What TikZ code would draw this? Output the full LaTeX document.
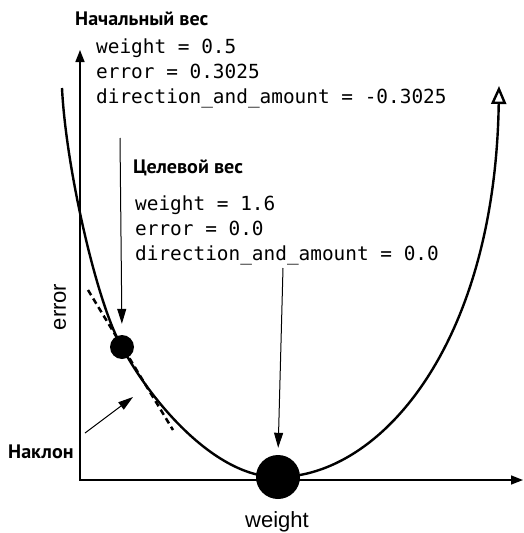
\documentclass[tikz,border=0pt]{standalone}
\usepackage{fontspec}
\setmainfont{Liberation Sans}
\newfontfamily\codefont{DejaVu Sans Mono}
\newfontfamily\headfont{PT Sans}[FakeStretch=1.03]
\usetikzlibrary{arrows.meta}
\tikzset{
  axis/.style={line width=1.5pt},
  pointer/.style={line width=1pt, -{Triangle[length=15pt,width=9pt]}},
  curveline/.style={line width=2.4pt, line join=round},
  dot/.style={circle, fill=black, inner sep=0pt},
  code/.style={font=\codefont\fontsize{19.4}{25}\selectfont, anchor=base west, inner sep=0pt},
  head/.style={font=\headfont\bfseries\fontsize{19.5}{23}\selectfont, anchor=base west, inner sep=0pt},
  axlabel/.style={font=\fontsize{22}{26}\selectfont, inner sep=0pt},
  tangent/.style={line width=2.5pt, dash pattern=on 6pt off 4pt}
}
\begin{document}
\begin{tikzpicture}[x=1pt,y=-1pt]
\useasboundingbox (0,0) rectangle (523,533);
% axes
\coordinate (ytop) at (80,50);
\coordinate (xend) at (523,480);
\draw[axis, {Triangle[length=12pt,width=9pt]}-{Triangle[length=12pt,width=9pt]}] (ytop) |- (xend);
% labels
\node[axlabel, rotate=90] (elabel) at (60,307) {error};
\node[axlabel] (wlabel) at (277,522) {weight};
% curve
\coordinate (cstart) at (62,88);
\coordinate (cdot) at (122,347);
\coordinate (cmin) at (278,477);
\coordinate (cend) at (499,86);
\draw[curveline, -{Triangle[open,length=18pt,width=15pt,line width=2.4pt]}]
  (cstart) .. controls (66,170) and (98,307) .. (cdot)
  .. controls (150,400) and (215,478) .. (cmin)
  .. controls (380,477) and (495,345) .. (cend);
% tangent
\coordinate (t1) at (88,290);
\coordinate (t2) at (173,430);
\draw[tangent] (t1) -- (t2);
% dots
\node[dot, minimum size=24pt] (small) at (cdot) {};
\node[dot, minimum size=44pt] (big) at (cmin) {};
% texts
\node[head] (h1) at (75,25) {Начальный вес};
\node[code] (c1a) at (96,53) {weight = 0.5};
\node[code] (c1b) at (96,78) {error = 0.3025};
\node[code] (c1c) at (96,103) {direction\_and\_amount = -0.3025};
\node[head] (h2) at (133,173) {Целевой вес};
\node[code] (c2a) at (135,210) {weight = 1.6};
\node[code] (c2b) at (135,235) {error = 0.0};
\node[code] (c2c) at (135,260) {direction\_and\_amount = 0.0};
\node[head] (slope) at (8,458) {Наклон};
% pointers
\coordinate (p1) at (120,138);
\draw[pointer, shorten >=11pt] (p1) -- (small.north);
\coordinate (p2) at (283,268);
\draw[pointer, shorten >=7pt] (p2) -- (big.north);
\coordinate (s1) at (85,433);
\coordinate (s2) at (133,397);
\draw[pointer] (s1) -- (s2);
\end{tikzpicture}
\end{document}
